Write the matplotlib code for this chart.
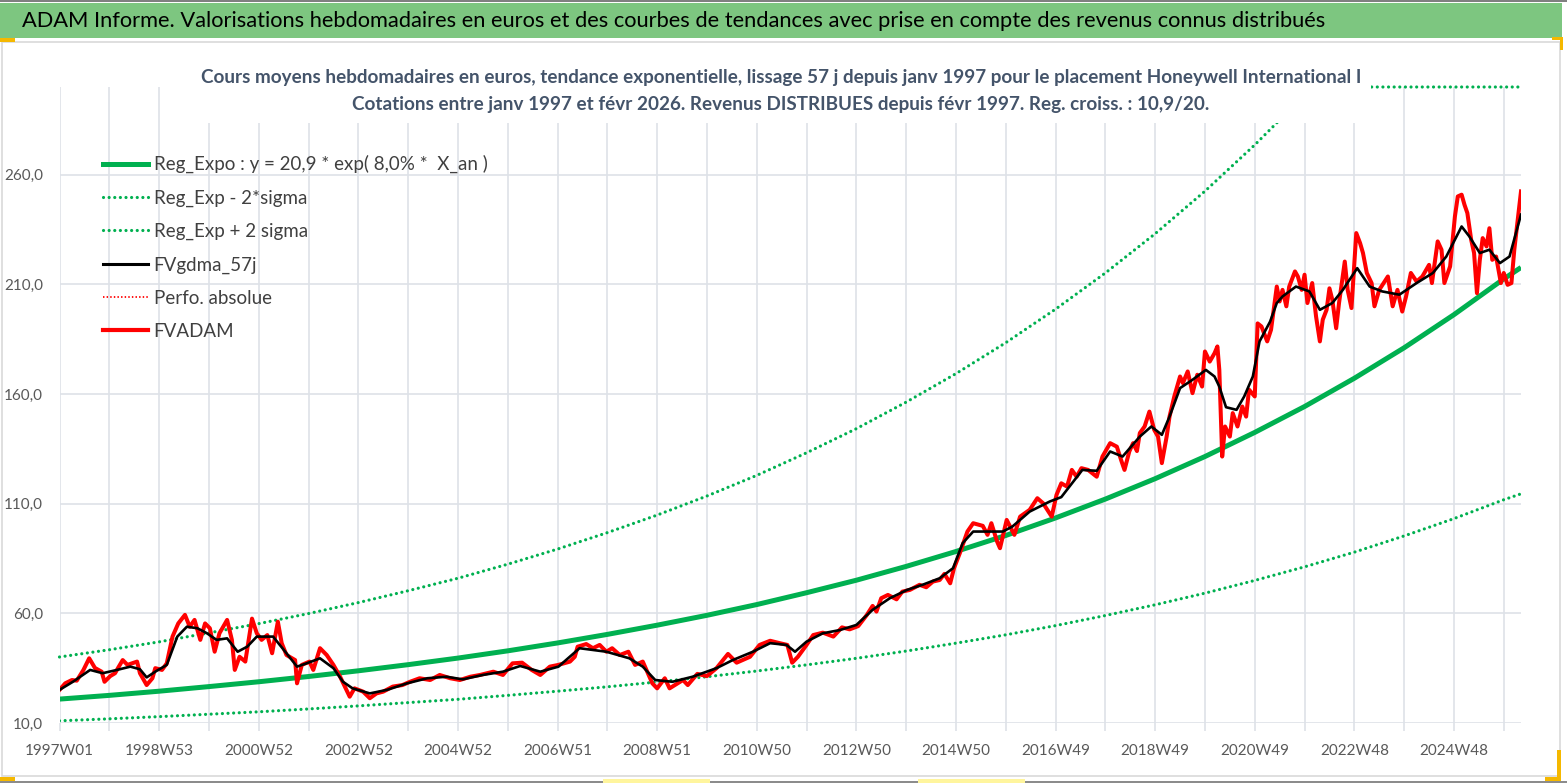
import matplotlib
matplotlib.use("Agg")
import numpy as np
import matplotlib.pyplot as plt
from matplotlib.lines import Line2D
from matplotlib.patches import Rectangle

plt.rcParams['font.family'] = ['Lato', 'DejaVu Sans']

# ---- data (x = week index since 1997W01) ----
tick_labels = ["1997W01", "1998W53", "2000W52", "2002W52", "2004W52", "2006W51",
               "2008W51", "2010W50", "2012W50", "2014W50", "2016W49", "2018W49",
               "2020W49", "2022W48", "2024W48"]

trend_week = [0, 52, 104, 156, 208, 260, 312, 364, 416, 468, 520, 572, 624, 676,
              728, 780, 832, 884, 936, 988, 1040, 1092, 1144, 1196, 1248, 1300,
              1352, 1404, 1456, 1508, 1526]
reg_expo = [20.9, 22.6, 24.5, 26.6, 28.8, 31.2, 33.8, 36.6, 39.6, 42.9, 46.5, 50.4,
            54.6, 59.1, 64.0, 69.4, 75.1, 81.4, 88.2, 95.5, 103.5, 112.1, 121.4,
            131.5, 142.5, 154.3, 167.2, 181.1, 196.2, 212.5, 217.7]
reg_low = [11.0, 11.9, 12.9, 14.0, 15.1, 16.4, 17.8, 19.3, 20.8, 22.6, 24.5, 26.5,
           28.7, 31.1, 33.7, 36.5, 39.5, 42.8, 46.4, 50.2, 54.4, 59.0, 63.9, 69.2,
           75.0, 81.2, 87.9, 95.3, 103.2, 111.8, 114.5]
reg_high = [40.1, 43.4, 47.0, 51.1, 55.3, 59.9, 64.9, 70.3, 76.0, 82.4, 89.3, 96.8,
            104.8, 113.5, 122.9, 133.2, 144.2, 156.3, 169.3, 183.4, 198.7, 215.2,
            233.1, 252.5, 273.6, 296.3, 321.0, 347.7, 376.7, 408.0, 418.0]

fv_week = [0, 6, 13, 18, 25, 31, 37, 44, 47, 53, 58, 61, 66, 71, 81, 84, 91, 97, 100,
           107, 112, 118, 124, 131, 136, 141, 147, 152, 157, 162, 167, 175, 180, 183,
           188, 194, 201, 206, 211, 217, 222, 228, 232, 237, 246, 248, 253, 261, 265,
           272, 279, 286, 293, 298, 303, 308, 317, 324, 331, 338, 348, 358, 366, 376,
           387, 397, 408, 418, 429, 439, 453, 463, 473, 483, 493, 502, 512, 521, 533,
           538, 541, 550, 557, 564, 571, 577, 585, 594, 601, 609, 619, 624, 632, 637,
           651, 656, 666, 676, 686, 698, 707, 721, 731, 742, 752, 760, 765, 771, 780,
           787, 797, 808, 817, 825, 834, 843, 849, 853, 858, 865, 874, 880, 888, 898,
           905, 912, 919, 924, 930, 934, 940, 948, 954, 964, 969, 973, 979, 982, 989,
           997, 1003, 1013, 1021, 1027, 1036, 1041, 1046, 1052, 1057, 1062, 1067,
           1074, 1083, 1089, 1097, 1104, 1109, 1112, 1117, 1121, 1125, 1128, 1133,
           1138, 1143, 1147, 1151, 1156, 1159, 1164, 1170, 1173, 1178, 1183, 1188,
           1193, 1196, 1201, 1206, 1209, 1211, 1214, 1217, 1222, 1225, 1230, 1235,
           1239, 1242, 1248, 1251, 1255, 1261, 1265, 1271, 1274, 1277, 1281, 1284,
           1290, 1293, 1297, 1300, 1303, 1308, 1312, 1316, 1319, 1323, 1326, 1329,
           1333, 1336, 1342, 1345, 1349, 1354, 1358, 1361, 1365, 1370, 1373, 1378,
           1387, 1392, 1397, 1402, 1406, 1411, 1417, 1423, 1430, 1433, 1439, 1443,
           1446, 1452, 1457, 1460, 1464, 1467, 1470, 1474, 1477, 1480, 1483, 1486,
           1490, 1493, 1496, 1500, 1505, 1508, 1512, 1516, 1519, 1523, 1526]
fv_adam = [25.1, 28.1, 29.6, 29.3, 34.2, 39.5, 35.1, 33.4, 28.8, 31.4, 32.7, 35.0,
           38.7, 36.5, 38.0, 32.7, 27.3, 30.4, 35.0, 34.2, 37.2, 49.4, 55.4, 59.3,
           53.9, 57.0, 47.9, 55.4, 53.2, 42.5, 50.9, 57.0, 47.9, 34.2, 40.2, 38.0,
           57.6, 50.9, 47.9, 50.1, 41.8, 56.2, 46.4, 41.0, 38.7, 28.1, 36.5, 38.0,
           34.2, 44.1, 41.0, 36.5, 31.1, 26.6, 22.0, 25.8, 24.3, 21.3, 23.5, 24.3,
           26.6, 27.3, 28.8, 30.4, 29.6, 31.9, 30.4, 29.6, 31.1, 31.9, 33.4, 31.9,
           37.2, 37.5, 34.2, 31.9, 35.7, 36.5, 38.0, 40.2, 44.8, 46.0, 44.1, 45.6,
           42.5, 44.1, 41.0, 42.5, 36.5, 38.0, 28.1, 25.8, 30.4, 25.8, 29.6, 27.3,
           32.4, 31.4, 35.0, 41.5, 37.5, 40.2, 45.6, 47.5, 46.4, 45.6, 37.5, 40.2,
           45.6, 50.1, 51.2, 49.4, 53.6, 52.7, 54.2, 59.3, 63.4, 60.8, 66.9, 68.4,
           66.4, 69.9, 70.7, 73.0, 71.9, 74.5, 75.2, 78.0, 73.7, 80.6, 87.4, 97.3,
           101.1, 99.9, 95.8, 101.1, 92.7, 89.7, 102.6, 95.8, 104.1, 107.2, 112.5,
           110.2, 104.1, 114.0, 119.3, 117.8, 125.4, 122.3, 126.2, 125.4, 122.3,
           131.5, 137.6, 136.0, 129.2, 125.4, 133.8, 137.6, 134.0, 142.2, 145.2,
           152.0, 143.7, 140.6, 128.5, 140.6, 149.7, 158.9, 168.0, 165.0, 170.3,
           160.4, 168.8, 163.4, 179.4, 174.8, 178.6, 181.7, 171.0, 131.5, 145.2,
           140.6, 151.3, 145.2, 154.3, 149.7, 162.0, 158.9, 192.2, 190.8, 184.0,
           189.3, 209.0, 202.2, 207.5, 200.0, 209.0, 215.9, 213.6, 207.5, 214.4,
           201.5, 210.6, 195.4, 184.0, 193.9, 198.4, 208.2, 203.0, 190.0, 201.5,
           220.4, 207.5, 199.2, 233.4, 228.8, 224.3, 215.2, 210.6, 200.0, 207.5,
           213.6, 200.0, 207.5, 197.6, 204.5, 215.2, 211.3, 213.6, 218.9, 210.6,
           229.6, 225.8, 210.6, 218.2, 241.0, 250.1, 250.9, 246.3, 242.5, 230.3,
           224.3, 206.0, 221.2, 231.1, 227.3, 235.6, 221.2, 222.7, 210.6, 215.2,
           209.8, 210.6, 225.8, 241.0, 252.4]

ma_week = [0, 14, 32, 45, 60, 74, 84, 91, 100, 112, 123, 133, 144, 154, 164, 175, 186,
           196, 206, 223, 237, 248, 258, 272, 286, 296, 306, 324, 342, 363, 384, 404,
           421, 442, 463, 481, 502, 521, 543, 571, 595, 609, 622, 640, 661, 686, 703,
           724, 742, 759, 768, 780, 797, 815, 832, 849, 867, 885, 901, 919, 933, 943,
           954, 971, 985, 995, 1013, 1034, 1046, 1068, 1083, 1097, 1110, 1128, 1140,
           1151, 1159, 1170, 1183, 1197, 1206, 1211, 1218, 1229, 1237, 1246, 1253,
           1264, 1271, 1277, 1291, 1305, 1316, 1329, 1340, 1355, 1368, 1381, 1399,
           1417, 1434, 1448, 1464, 1472, 1483, 1493, 1504, 1514, 1526]
fv_gdma = [25.1, 28.8, 34.2, 32.7, 34.2, 35.7, 34.5, 30.8, 33.4, 36.5, 49.4, 53.9,
           53.2, 50.9, 47.9, 48.6, 42.5, 44.8, 49.4, 49.4, 41.8, 35.7, 37.2, 39.5,
           35.0, 28.8, 25.8, 23.5, 25.1, 28.1, 30.4, 31.1, 29.9, 31.9, 33.4, 36.0,
           33.4, 35.7, 44.1, 42.5, 39.5, 35.7, 29.6, 28.8, 31.1, 35.0, 38.7, 42.5,
           46.4, 45.6, 42.5, 47.1, 50.9, 52.4, 54.7, 61.6, 66.9, 70.7, 73.0, 76.0,
           80.6, 92.0, 97.3, 97.3, 97.3, 99.6, 106.4, 111.0, 113.0, 125.4, 125.0,
           133.8, 131.5, 140.6, 145.2, 141.4, 149.7, 162.7, 166.5, 171.0, 168.0,
           163.4, 154.0, 152.8, 158.9, 168.0, 184.0, 193.0, 201.5, 204.5, 209.0,
           206.8, 198.4, 201.5, 207.5, 217.4, 209.0, 206.8, 205.3, 210.6, 215.2,
           222.7, 236.4, 231.9, 224.3, 225.8, 219.7, 222.7, 241.8]

y_min, y_max = 10, 300

# ---- figure ----
W, H = 1567, 783
fig = plt.figure(figsize=(W / 100, H / 100), dpi=100)


def rect(x0, y0, x1, y1):
    # pixel box (top-left origin) -> figure fraction rect
    return [x0 / W, 1 - y1 / H, (x1 - x0) / W, (y1 - y0) / H]


def box(x0, y0, x1, y1, color, z, edge="none"):
    r = Rectangle((x0 / W, 1 - y1 / H), (x1 - x0) / W, (y1 - y0) / H,
                  transform=fig.transFigure, facecolor=color, edgecolor=edge, lw=1.2, zorder=z)
    fig.patches.append(r)


# frame, banner and the little selection marks
box(2, 42, 1560, 776, "white", -2, edge="#D9D9D9")
box(0, 3, 1562, 38, "#7DC680", -1)
box(0, 0, 1567, 2, "#808080", -1)
box(0, 780.5, 1567, 783, "#8C8C8C", -1)
for x0, y0, x1, y1, c in [(0, 38, 15, 42, "#F5B800"), (1552, 37, 1563, 40, "#F5B800"),
                          (1560, 37, 1563, 50, "#F5B800"), (0, 777, 15, 781, "#F5B800"),
                          (1557, 750, 1561, 781, "#F5B800"), (1545, 777, 1561, 781, "#F5B800"),
                          (603, 779, 710, 783, "#FFF59D"), (918, 779, 1025, 783, "#FFF59D")]:
    box(x0, y0, x1, y1, c, -1)

ax = fig.add_axes(rect(59.5, 87, 1521, 723))
ax.set_zorder(1)
ax.set_facecolor("none")

green = "#00B050"
grid_c = "#DEE2E8"
dots = (0, (0.01, 1.75))

ax.plot(trend_week, reg_expo, color=green, lw=3.6, solid_capstyle="butt", zorder=3)
ax.plot(trend_week, reg_low, color=green, lw=2.3, linestyle=dots, dash_capstyle="round", zorder=3)
# values above the axis are drawn on its top edge, as in the original
ax.plot(trend_week, np.minimum(reg_high, y_max), color=green, lw=2.3, linestyle=dots,
        dash_capstyle="round", clip_on=False, zorder=3)
ax.plot(fv_week, fv_adam, color="#FF0000", lw=2.9, solid_joinstyle="round", zorder=4)
ax.plot(ma_week, fv_gdma, color="black", lw=1.9, zorder=5)

ax.set_xlim(0, fv_week[-1])
ax.set_ylim(y_min, y_max)
ax.set_yticks(np.arange(10, 261, 50))
ax.set_yticklabels([f"{v:.1f}".replace(".", ",") for v in np.arange(10, 261, 50)])
ax.set_xticks(np.arange(0, 1457, 104))
ax.set_xticklabels(tick_labels)
ax.set_xticks(np.arange(0, 1509, 52), minor=True)
for s in ax.spines.values():
    s.set_visible(False)
ax.set_axisbelow(True)
ax.grid(True, which="both", color=grid_c, lw=1.2)
ax.tick_params(axis="x", which="both", direction="out", length=6, width=1.2, color=grid_c,
               labelsize=11, labelcolor="#595959", pad=9)
ax.tick_params(axis="y", length=0, labelsize=11, labelcolor="#595959", pad=12)

handles = [
    Line2D([], [], color=green, lw=3.6),
    Line2D([], [], color=green, lw=2.3, linestyle=dots, dash_capstyle="round"),
    Line2D([], [], color=green, lw=2.3, linestyle=dots, dash_capstyle="round"),
    Line2D([], [], color="black", lw=2.2),
    Line2D([], [], color="#FF0000", lw=1.3, linestyle=(0, (0.8, 1.2))),
    Line2D([], [], color="#FF0000", lw=3.0),
]
labels = ["Reg_Expo : y = 20,9 * exp( 8,0% *  X_an )", "Reg_Exp - 2*sigma",
          "Reg_Exp + 2 sigma", "FVgdma_57j", "Perfo. absolue", "FVADAM"]
leg = ax.legend(handles, labels, loc="upper left", bbox_to_anchor=(103 / W, 1 - 155 / H),
                bbox_transform=fig.transFigure, frameon=False, fontsize=13.5,
                handlelength=2.4, handletextpad=0.3, labelspacing=0.86, borderpad=0,
                borderaxespad=0, labelcolor="#404040")

banner = fig.text(22 / W, 1 - 21 / H,
                  "ADAM Informe. Valorisations hebdomadaires en euros et des courbes de "
                  "tendances avec prise en compte des revenus connus distribués",
                  ha="left", va="center", fontsize=15, color="black", zorder=5)
title = fig.text(781 / W, 1 - 91 / H,
                 "Cours moyens hebdomadaires en euros, tendance exponentielle, lissage 57 j "
                 "depuis janv 1997 pour le placement Honeywell International I\n"
                 "Cotations entre janv 1997 et févr 2026. Revenus DISTRIBUES depuis févr 1997. "
                 "Reg. croiss. : 10,9/20.",
                 ha="center", va="center", multialignment="center", fontsize=13,
                 fontweight="bold", color="#44546A", linespacing=1.65, zorder=5,
                 bbox=dict(facecolor="white", edgecolor="none", pad=7))

# scale the two header texts to the widths they take in the original
renderer = fig.canvas.get_renderer()
for t, target in [(banner, 1308), (title, 1160)]:
    wpx = t.get_window_extent(renderer).width
    t.set_fontsize(t.get_fontsize() * target / wpx)

fig.savefig("out.png", dpi=100)
